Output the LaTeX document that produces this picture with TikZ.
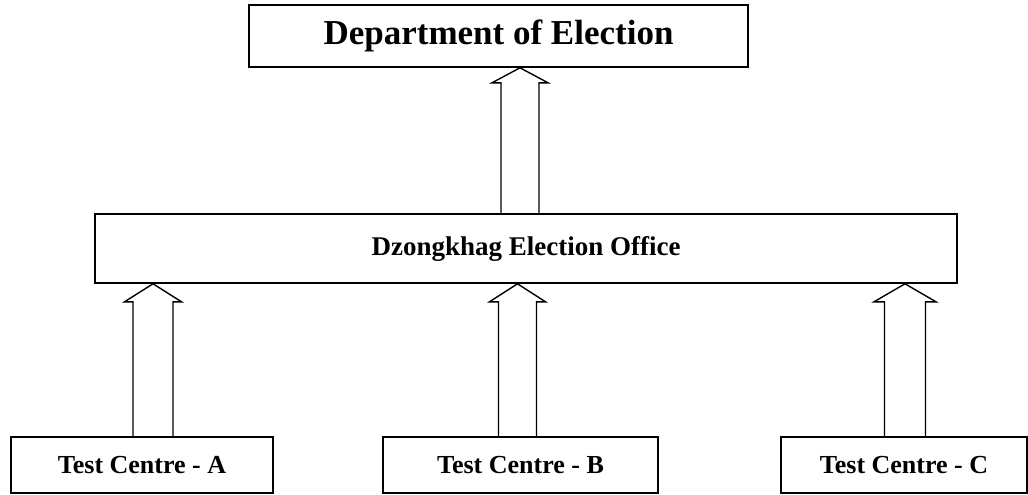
\documentclass[tikz,border=0pt]{standalone}
\usepackage{fontspec}
\setmainfont{Liberation Serif}
\newcommand\hollowup[6]{%
  \draw[hollow] ([xshift=-#4pt]#1 |- #3) -- ([xshift=-#4pt,yshift=-#6pt]#1 |- #2)
    -- ([xshift=-#5pt,yshift=-#6pt]#1 |- #2) -- (#1 |- #2)
    -- ([xshift=#5pt,yshift=-#6pt]#1 |- #2) -- ([xshift=#4pt,yshift=-#6pt]#1 |- #2)
    -- ([xshift=#4pt]#1 |- #3);}
\tikzset{
  box/.style={draw, line width=1.6pt, inner sep=0pt, font=\bfseries},
  hollow/.style={draw, line width=1.4pt, line join=miter}
}
\begin{document}
\begin{tikzpicture}[x=1pt,y=-1pt]
\useasboundingbox (0,0) rectangle (1028,495);
\node[box, minimum width=499pt, minimum height=62pt, font=\bfseries\fontsize{35}{40}\selectfont] (dept) at (498.5,36) {Department of Election};
\node[box, minimum width=862pt, minimum height=69pt, font=\bfseries\fontsize{27}{32}\selectfont] (dzo) at (526,248.5) {Dzongkhag Election Office};
\node[box, minimum width=262pt, minimum height=56pt, font=\bfseries\fontsize{26}{30}\selectfont] (tca) at (142,465) {Test Centre - A};
\node[box, minimum width=275pt, minimum height=56pt, font=\bfseries\fontsize{26}{30}\selectfont] (tcb) at (520.5,465) {Test Centre - B};
\node[box, minimum width=246pt, minimum height=56pt, font=\bfseries\fontsize{26}{30}\selectfont] (tcc) at (904,465) {Test Centre - C};
\coordinate (x0) at (520,0);
\coordinate (x1) at (153,0);
\coordinate (x2) at (517.5,0);
\coordinate (x3) at (905,0);
\hollowup{x0}{dept.south}{dzo.north}{19}{28}{15}
\hollowup{x1}{dzo.south}{tca.north}{20}{28.5}{18}
\hollowup{x2}{dzo.south}{tcb.north}{19}{28}{18}
\hollowup{x3}{dzo.south}{tcc.north}{20.5}{31}{18}
\end{tikzpicture}
\end{document}
